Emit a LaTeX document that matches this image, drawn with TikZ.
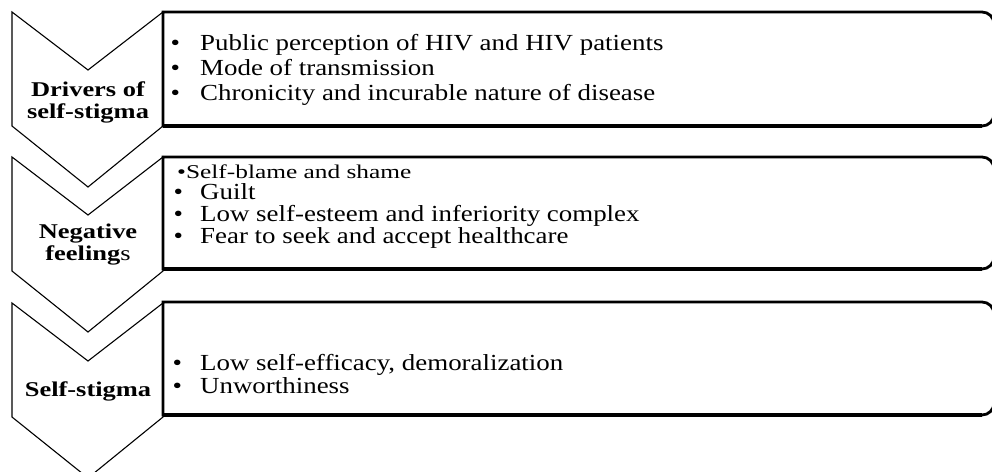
\documentclass[tikz,border=0pt]{standalone}
\usepackage{fontspec}
\setmainfont{Liberation Serif}
\newfontfamily\bodyfont{Liberation Serif}[FakeStretch=1.17]
\newfontfamily\labelfont{Liberation Serif}[FakeStretch=1.26]
\newfontfamily\smallfont{Liberation Serif}[FakeStretch=1.3]
\tikzset{
  chev/.style={draw=black, line width=1.1pt, fill=white, line join=miter},
  boxline/.style={draw=black, line width=2.8pt, fill=white},
  boxbottom/.style={draw=black, line width=4.5pt},
  lab/.style={font=\labelfont\bfseries\fontsize{21}{21}\selectfont, anchor=base, inner sep=0pt},
  body/.style={font=\bodyfont\fontsize{23}{23}\selectfont, anchor=base west, inner sep=0pt},
  smallbody/.style={font=\smallfont\fontsize{19.5}{19.5}\selectfont, anchor=base west, inner sep=0pt},
}
\newcommand\mychevron[1]{%
  \draw[chev] (12,#1) -- (88,{#1+58}) -- (163,#1) -- (163,{#1+114}) -- (88,{#1+175}) -- (12,{#1+114}) -- cycle;}
\newcommand\mysidebox[2]{%
  \draw[boxline] (163,#1) -- (982,#1) arc[start angle=270, end angle=360, radius=12]
     -- (994,{#2-12}) arc[start angle=0, end angle=90, radius=12] -- (163,#2) -- cycle;
  \draw[boxbottom] (163,#2) -- (982,#2);}
\begin{document}
\begin{tikzpicture}[x=1pt,y=-1pt]
\useasboundingbox (0,0) rectangle (992,471);
\fill[white] (0,0) rectangle (992,471);
% chevrons
\mychevron{12}
\mychevron{157}
\mychevron{303}
% boxes
\mysidebox{12}{126}
\mysidebox{157}{269}
\mysidebox{302}{415}
% labels
\node[lab] (l1a) at (88,96) {Drivers of};
\node[lab] (l1b) at (88,118) {self-stigma};
\node[lab] (l2a) at (88,238) {Negative};
\node[lab] (l2b) at (88,260) {feeling{\mdseries s}};
\node[lab] (l3a) at (88,396) {Self-stigma};
% box 1
\node[body] (t11) at (170.5,50) {\makebox[29.5pt][l]{\textbullet}Public perception of HIV and HIV patients};
\node[body] (t12) at (170.5,75) {\makebox[29.5pt][l]{\textbullet}Mode of transmission};
\node[body] (t13) at (170.5,100.5) {\makebox[29.5pt][l]{\textbullet}Chronicity and incurable nature of disease};
% box 2
\node[smallbody] (t21) at (177,178) {\textbullet Self-blame and shame};
\node[body] (t22) at (173.5,199) {\makebox[26.5pt][l]{\textbullet}Guilt};
\node[body] (t23) at (173.5,221.5) {\makebox[26.5pt][l]{\textbullet}Low self-esteem and inferiority complex};
\node[body] (t24) at (173.5,243.5) {\makebox[26.5pt][l]{\textbullet}Fear to seek and accept healthcare};
% box 3
\node[body] (t31) at (172.5,370) {\makebox[27.5pt][l]{\textbullet}Low self-efficacy, demoralization};
\node[body] (t32) at (172.5,393.5) {\makebox[27.5pt][l]{\textbullet}Unworthiness};
\end{tikzpicture}
\end{document}
